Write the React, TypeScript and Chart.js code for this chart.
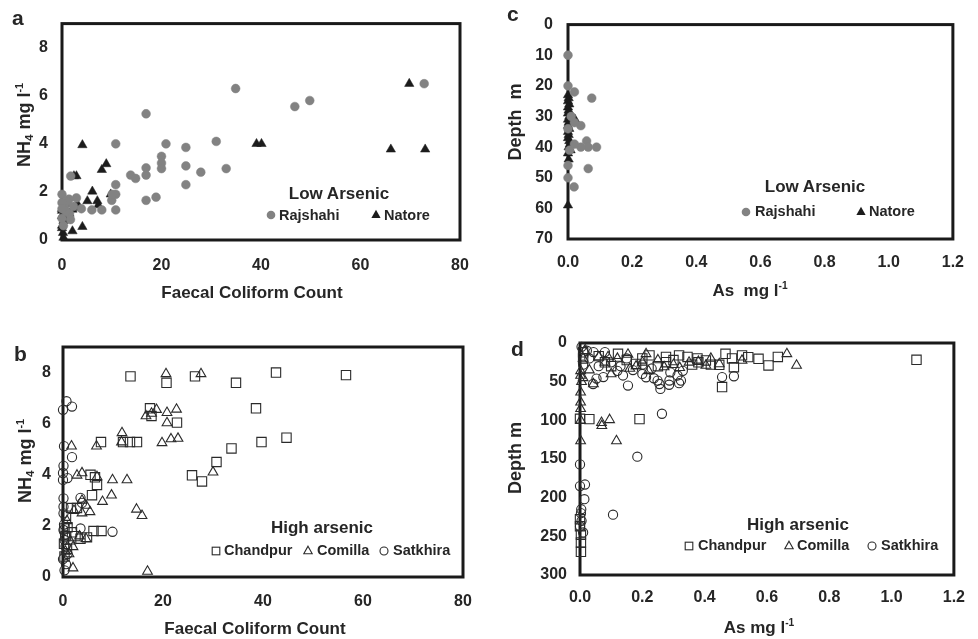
import React, { useEffect, useRef } from 'react';
import { Chart, registerables } from 'chart.js';
Chart.register(...registerables);

const FONT = "'Liberation Sans', Arial, Helvetica, sans-serif";
const INK = '#262626';

type Pt = [number, number];

// ---- Panel a: Low arsenic, NH4 vs faecal coliform count ----
const rajshahiFcNh4: Pt[] = [
  [34.9, 6.3], [72.8, 6.5], [46.8, 5.55], [49.8, 5.8], [16.9, 5.25], [10.8, 4.0], [20.9, 4.0], [31, 4.1],
  [24.9, 3.85], [20, 3.48], [20, 3.2], [20, 2.97], [16.9, 3.0], [16.9, 2.7], [13.8, 2.7], [14.8, 2.56],
  [24.9, 3.08], [27.9, 2.82], [33, 2.97], [24.9, 2.3], [10.8, 2.3], [10.8, 1.9], [18.9, 1.78], [16.9, 1.65],
  [10.8, 1.25], [10, 1.65], [8, 1.25], [6, 1.25], [1.75, 2.66], [2.9, 1.75], [3.9, 1.3], [0, 1.9],
  [1.4, 1.7], [1, 1.6], [0.5, 1.4], [1.5, 1.1], [1.7, 0.85], [0.3, 0.6], [0, 1.55], [2.3, 1.4],
  [0.8, 1.2], [0, 0.9], [10.1, 1.9], [0, 1.3]
];
const natoreFcNh4: Pt[] = [
  [69.8, 6.5], [4.1, 3.95], [39.1, 4.0], [40.1, 4.0], [66.1, 3.77], [73, 3.77], [8.9, 3.16], [8, 2.92],
  [2.9, 2.66], [2.4, 2.66], [6.1, 2.02], [9.8, 1.9], [5.1, 1.62], [7.1, 1.62], [7.3, 1.45], [3.1, 1.5],
  [2.9, 1.35], [2.1, 1.27], [1.5, 1.1], [4.1, 0.55], [2.1, 0.37], [0, 1.3], [0, 1.22], [0, 1.0],
  [0.3, 0.8], [0, 0.6], [0, 0.5], [0.2, 0.3], [0.3, 0.1], [0.7, 1.5], [1.2, 0.9]
];

// ---- Panel c: Low arsenic, depth vs As ----
const rajshahiAsDepth: Pt[] = [
  [0, 10], [0, 20], [0.02, 22], [0.074, 24], [0.04, 33], [0.02, 32], [0.058, 38], [0.089, 40],
  [0.063, 40], [0.04, 40], [0.02, 39], [0.063, 47], [0.019, 53], [0, 50], [0, 46], [0, 34],
  [0.01, 30], [0.005, 41]
];
const natoreAsDepth: Pt[] = [
  [0, 23], [0.002, 24], [0, 25], [0.004, 26], [0, 27], [0.002, 28], [0, 29], [0.004, 30],
  [0, 31], [0.022, 31], [0.002, 32], [0, 33], [0.004, 34], [0, 35], [0.002, 36], [0, 37],
  [0.004, 38], [0.006, 39], [0.002, 40], [0.008, 41], [0, 42], [0.002, 44], [0, 59]
];

// ---- Panel b: High arsenic, NH4 vs faecal coliform count ----
const chandpurFcNh4: Pt[] = [
  [13.5, 7.85], [20.7, 7.6], [26.4, 7.85], [42.6, 8.0], [56.6, 7.9], [34.6, 7.6], [38.6, 6.6], [17.4, 6.6],
  [17.7, 6.3], [22.8, 6.04], [44.7, 5.45], [39.7, 5.28], [33.7, 5.03], [30.7, 4.5], [25.8, 3.98], [27.8, 3.74],
  [7.6, 5.28], [12.0, 5.28], [13.4, 5.28], [14.8, 5.28], [5.5, 4.0], [6.4, 3.9], [6.8, 3.6], [5.8, 3.2],
  [1.6, 2.7], [2.8, 2.7], [6.1, 1.8], [7.7, 1.8], [4.8, 1.55], [0.3, 1.9], [0.5, 1.6], [0.9, 1.95],
  [1.8, 1.75], [0.2, 1.3], [0.8, 1.1], [0.3, 0.8], [2.5, 1.6], [3.5, 1.5], [0.6, 2.4]
];
const comillaFcNh4: Pt[] = [
  [20.6, 7.95], [27.6, 7.95], [16.6, 6.3], [17.7, 6.4], [18.7, 6.55], [20.8, 6.43], [22.7, 6.56], [20.8, 6.03],
  [11.8, 5.64], [11.7, 5.28], [19.8, 5.25], [21.6, 5.4], [23, 5.42], [6.7, 5.12], [1.7, 5.12], [2.8, 3.98],
  [3.8, 4.07], [9.9, 3.8], [12.8, 3.8], [6.8, 3.92], [9.7, 3.2], [7.9, 2.95], [14.7, 2.65], [15.8, 2.4],
  [30, 4.1], [16.9, 0.22], [2, 0.35], [3.8, 3.0], [4.6, 2.8], [3.8, 2.5], [5.4, 2.55], [2.2, 2.6],
  [2, 1.18], [1.2, 0.9], [3.3, 1.6], [4.6, 1.5], [1.5, 1.4], [0.8, 2.2], [0.5, 1.0]
];
const satkhiraFcNh4: Pt[] = [
  [0.7, 6.88], [1.8, 6.67], [0, 6.54], [0.2, 5.12], [1.8, 4.69], [0.1, 4.35], [0, 4.07], [0, 3.8],
  [0.9, 3.87], [0.1, 3.08], [0.1, 2.75], [0.1, 2.49], [3.5, 3.1], [3.8, 2.9], [9.9, 1.77], [3.5, 1.9],
  [0.1, 1.84], [0.3, 1.45], [0.9, 0.9], [0.6, 0.5], [0.3, 0.26], [0.2, 2.05], [0.5, 1.2], [0, 0.7],
  [0.4, 1.65]
];

// ---- Panel d: High arsenic, depth vs As ----
const chandpurAsDepth: Pt[] = [
  [1.08, 21.7], [0.456, 57], [0.191, 98.4], [0.03, 98.4], [0, 98], [0.605, 29], [0.635, 18], [0.573, 20.4],
  [0.54, 18.3], [0.52, 16], [0.467, 14], [0.488, 20], [0.494, 31.3], [0.447, 28.2], [0.404, 22.6], [0.377, 20],
  [0.345, 18], [0.318, 16], [0.276, 18], [0.223, 16], [0.122, 14], [0.276, 24.8], [0.18, 27], [0, 228],
  [0, 237], [0.003, 248], [0.003, 258], [0.003, 270], [0.08, 25], [0.15, 22], [0.3, 22], [0.38, 25],
  [0.42, 28], [0.2, 20], [0.01, 20], [0.01, 12], [0.06, 17], [0.1, 30], [0.36, 28], [0.25, 30]
];
const comillaAsDepth: Pt[] = [
  [0.664, 14], [0.695, 29], [0.117, 126.6], [0.095, 99.3], [0.069, 103], [0.07, 107], [0.002, 100], [0.002, 126.6],
  [0.002, 76.6], [0.002, 63.7], [0.043, 53], [0.002, 42], [0.002, 36], [0.52, 22.6], [0.404, 29], [0.447, 27],
  [0.154, 14.8], [0.212, 14], [0.27, 31], [0.35, 25], [0.3, 28], [0.25, 22], [0.18, 30], [0.12, 20],
  [0.08, 25], [0.06, 18], [0.03, 35], [0.01, 45], [0.22, 36], [0.38, 24], [0.42, 20], [0.01, 20],
  [0.015, 10], [0.1, 40], [0.16, 33], [0.32, 32], [0.005, 50], [0.002, 85], [0.09, 18], [0.2, 25]
];
const satkhiraAsDepth: Pt[] = [
  [0.263, 91.5], [0.184, 147], [0.106, 222], [0, 157], [0.016, 183], [0, 185], [0.014, 202], [0.004, 215],
  [0.003, 220], [0, 237], [0.154, 55], [0.258, 59.4], [0.286, 54], [0.249, 48.6], [0.324, 48.6], [0.313, 42],
  [0.456, 44], [0.494, 43], [0.237, 45.6], [0.212, 44.3], [0.075, 44], [0.053, 46], [0.042, 53], [0.08, 11.7],
  [0.043, 11.7], [0.022, 10], [0.005, 5], [0.318, 52], [0.287, 48.5], [0.255, 53], [0.138, 42], [0.1, 25],
  [0.13, 30], [0.17, 35], [0.2, 28], [0.23, 33], [0.15, 20], [0.06, 30], [0.03, 20], [0.01, 28],
  [0.29, 38], [0.33, 36], [0.2, 40], [0.12, 36], [0.005, 230], [0.01, 245]
];

const fcTicks = [0, 20, 40, 60, 80];
const nh4Ticks = [0, 2, 4, 6, 8];
const asTicks = [0, 0.2, 0.4, 0.6, 0.8, 1.0, 1.2];
const depthLowTicks = [0, 10, 20, 30, 40, 50, 60, 70];
const depthHighTicks = [0, 50, 100, 150, 200, 250, 300];

const toXY = (pts: Pt[]) => pts.map(([x, y]) => ({ x, y }));

const filled = (label: string, pts: Pt[], style: string, color: string, r: number) => ({
  label, data: toXY(pts), pointStyle: style, pointRadius: r, backgroundColor: color,
  borderColor: color, borderWidth: 0.5, showLine: false, clip: false,
});
const open = (label: string, pts: Pt[], style: string, r: number) => ({
  label, data: toXY(pts), pointStyle: style, pointRadius: r, backgroundColor: 'rgba(255,255,255,0)',
  borderColor: '#2a2a2a', borderWidth: 1.1, showLine: false, clip: false,
});

type Box = { left: number; top: number; width: number; height: number };
type Area = { left: number; top: number; right: number; bottom: number };
type Spec = {
  box: Box; area: Area; datasets: any[];
  xMin: number; xMax: number; xTicks: number[]; xDec: number; xPad: number;
  yMin: number; yMax: number; yTicks: number[]; yPad: number; reverse: boolean;
};

const framePlugin = {
  id: 'frame',
  beforeDatasetsDraw(chart: any) {
    const { ctx, chartArea: a } = chart;
    ctx.save();
    ctx.strokeStyle = '#1a1a1a';
    ctx.lineWidth = 3;
    ctx.strokeRect(a.left, a.top, a.right - a.left, a.bottom - a.top);
    ctx.restore();
  },
};

function Panel({ spec }: { spec: Spec }) {
  const ref = useRef<HTMLCanvasElement>(null);
  useEffect(() => {
    const { box, area } = spec;
    const tickFont = { family: FONT, size: 16, weight: 'bold' as const };
    const chart = new Chart(ref.current as HTMLCanvasElement, {
      type: 'scatter',
      data: { datasets: spec.datasets },
      options: {
        animation: false,
        responsive: false,
        maintainAspectRatio: false,
        events: [],
        layout: {
          padding: { left: 0, bottom: 0, top: area.top - box.top, right: box.left + box.width - area.right },
        },
        plugins: { legend: { display: false }, tooltip: { enabled: false } },
        scales: {
          x: {
            type: 'linear', min: spec.xMin, max: spec.xMax,
            grid: { display: false, drawTicks: false }, border: { display: false },
            ticks: {
              font: tickFont, color: INK, padding: spec.xPad, maxRotation: 0, autoSkip: false,
              callback: (v: any) => Number(v).toFixed(spec.xDec),
            },
            afterBuildTicks: (s: any) => { s.ticks = spec.xTicks.map((value) => ({ value })); },
            afterFit: (s: any) => { s.height = box.top + box.height - area.bottom; },
          },
          y: {
            type: 'linear', min: spec.yMin, max: spec.yMax, reverse: spec.reverse,
            grid: { display: false, drawTicks: false }, border: { display: false },
            ticks: { font: tickFont, color: INK, padding: spec.yPad, autoSkip: false, callback: (v: any) => String(v) },
            afterBuildTicks: (s: any) => { s.ticks = spec.yTicks.map((value) => ({ value })); },
            afterFit: (s: any) => { s.width = area.left - box.left; },
          },
        },
      } as any,
      plugins: [framePlugin],
    });
    return () => chart.destroy();
  }, [spec]);
  const { box } = spec;
  return (
    <canvas ref={ref} width={box.width} height={box.height}
      style={{ position: 'absolute', left: box.left, top: box.top, width: box.width, height: box.height }} />
  );
}

const GRAY = '#828282';
const BLACK = '#1c1c1c';

const specA: Spec = {
  box: { left: 0, top: 0, width: 489, height: 300 },
  area: { left: 62, top: 12, right: 460, bottom: 240 },
  datasets: [filled('Rajshahi', rajshahiFcNh4, 'circle', GRAY, 4.4), filled('Natore', natoreFcNh4, 'triangle', BLACK, 5.4)],
  xMin: 0, xMax: 80, xTicks: fcTicks, xDec: 0, xPad: 16,
  yMin: 0, yMax: 9, yTicks: nh4Ticks, yPad: 14, reverse: false,
};
const specC: Spec = {
  box: { left: 489, top: 0, width: 489, height: 300 },
  area: { left: 568, top: 9, right: 953, bottom: 239 },
  datasets: [filled('Rajshahi', rajshahiAsDepth, 'circle', GRAY, 4.4), filled('Natore', natoreAsDepth, 'triangle', BLACK, 5.4)],
  xMin: 0, xMax: 1.2, xTicks: asTicks, xDec: 1, xPad: 14,
  yMin: 0, yMax: 70, yTicks: depthLowTicks, yPad: 15, reverse: true,
};
const specB: Spec = {
  box: { left: 0, top: 300, width: 489, height: 339 },
  area: { left: 63, top: 347, right: 463, bottom: 577 },
  datasets: [open('Chandpur', chandpurFcNh4, 'rect', 6.6), open('Comilla', comillaFcNh4, 'triangle', 5.6), open('Satkhira', satkhiraFcNh4, 'circle', 4.6)],
  xMin: 0, xMax: 80, xTicks: fcTicks, xDec: 0, xPad: 15,
  yMin: 0, yMax: 9, yTicks: nh4Ticks, yPad: 12, reverse: false,
};
const specD: Spec = {
  box: { left: 489, top: 300, width: 489, height: 339 },
  area: { left: 580, top: 343, right: 956, bottom: 575 },
  datasets: [open('Chandpur', chandpurAsDepth, 'rect', 6.6), open('Comilla', comillaAsDepth, 'triangle', 5.6), open('Satkhira', satkhiraAsDepth, 'circle', 4.6)],
  xMin: 0, xMax: 1.2, xTicks: asTicks, xDec: 1, xPad: 13,
  yMin: 0, yMax: 300, yTicks: depthHighTicks, yPad: 13, reverse: true,
};

const txt = (size: number): React.CSSProperties => ({
  position: 'absolute', fontFamily: FONT, fontWeight: 'bold', fontSize: size, color: INK,
  lineHeight: 1, whiteSpace: 'nowrap',
});

function Centered({ x, y, size, rotate, children }: { x: number; y: number; size: number; rotate?: boolean; children: React.ReactNode }) {
  return (
    <div style={{ ...txt(size), left: x, top: y, transform: `translate(-50%, -50%)${rotate ? ' rotate(-90deg)' : ''}` }}>
      {children}
    </div>
  );
}

function Marker({ x, y, kind }: { x: number; y: number; kind: 'dot' | 'tri' | 'sq' | 'otri' | 'ocirc' }) {
  const s = 10;
  let shape: React.ReactNode = null;
  if (kind === 'dot') shape = <circle cx={5} cy={5} r={4.3} fill={GRAY} />;
  if (kind === 'tri') shape = <polygon points="5,0.8 9.6,9 0.4,9" fill={BLACK} />;
  if (kind === 'sq') shape = <rect x={1.2} y={1.2} width={7.6} height={7.6} fill="none" stroke="#2a2a2a" strokeWidth={1.1} />;
  if (kind === 'otri') shape = <polygon points="5,1.2 9.2,8.8 0.8,8.8" fill="none" stroke="#2a2a2a" strokeWidth={1.1} />;
  if (kind === 'ocirc') shape = <circle cx={5} cy={5} r={4} fill="none" stroke="#2a2a2a" strokeWidth={1.1} />;
  return (
    <svg width={s} height={s} style={{ position: 'absolute', left: x - s / 2, top: y - s / 2 }}>{shape}</svg>
  );
}

function Label({ x, y, text }: { x: number; y: number; text: string }) {
  return <div style={{ ...txt(14.5), left: x, top: y, transform: 'translateY(-50%)' }}>{text}</div>;
}

const supStyle: React.CSSProperties = { fontSize: '0.6em', verticalAlign: '0.7em' };
const subStyle: React.CSSProperties = { fontSize: '0.65em', verticalAlign: '-0.25em' };

const nh4Title = <span>NH<span style={subStyle}>4</span> mg l<span style={supStyle}>-1</span></span>;

export default function App() {
  return (
    <div style={{ position: 'fixed', left: 0, top: 0, width: 978, height: 639, background: '#fff', overflow: 'hidden' }}>
      <Panel spec={specA} />
      <Panel spec={specC} />
      <Panel spec={specB} />
      <Panel spec={specD} />

      {/* panel letters */}
      <div style={{ ...txt(21), left: 12, top: 17, transform: 'translateY(-50%)' }}>a</div>
      <div style={{ ...txt(21), left: 507, top: 13, transform: 'translateY(-50%)' }}>c</div>
      <div style={{ ...txt(21), left: 14, top: 353, transform: 'translateY(-50%)' }}>b</div>
      <div style={{ ...txt(21), left: 511, top: 348, transform: 'translateY(-50%)' }}>d</div>

      {/* axis titles */}
      <Centered x={24} y={125} size={18} rotate>{nh4Title}</Centered>
      <Centered x={252} y={292} size={17}>Faecal Coliform Count</Centered>
      <Centered x={515} y={122} size={18} rotate>Depth&nbsp; m</Centered>
      <Centered x={750} y={290} size={17}>As&nbsp; mg l<span style={supStyle}>-1</span></Centered>
      <Centered x={25} y={461} size={18} rotate>{nh4Title}</Centered>
      <Centered x={255} y={628} size={17}>Faecal Coliform Count</Centered>
      <Centered x={515} y={458} size={18} rotate>Depth m</Centered>
      <Centered x={759} y={627} size={17}>As mg l<span style={supStyle}>-1</span></Centered>

      {/* legend a */}
      <Centered x={339} y={193} size={17}>Low Arsenic</Centered>
      <Marker x={271} y={215} kind="dot" />
      <Label x={279} y={215} text="Rajshahi" />
      <Marker x={376} y={214} kind="tri" />
      <Label x={384} y={215} text="Natore" />

      {/* legend c */}
      <Centered x={815} y={186} size={17}>Low Arsenic</Centered>
      <Marker x={746} y={212} kind="dot" />
      <Label x={755} y={211} text="Rajshahi" />
      <Marker x={861} y={211} kind="tri" />
      <Label x={869} y={211} text="Natore" />

      {/* legend b */}
      <Centered x={322} y={527} size={17}>High arsenic</Centered>
      <Marker x={216} y={551} kind="sq" />
      <Label x={224} y={550} text="Chandpur" />
      <Marker x={308} y={550} kind="otri" />
      <Label x={317} y={550} text="Comilla" />
      <Marker x={384} y={551} kind="ocirc" />
      <Label x={393} y={550} text="Satkhira" />

      {/* legend d */}
      <Centered x={798} y={524} size={17}>High arsenic</Centered>
      <Marker x={689} y={546} kind="sq" />
      <Label x={698} y={545} text="Chandpur" />
      <Marker x={789} y={545} kind="otri" />
      <Label x={797} y={545} text="Comilla" />
      <Marker x={872} y={546} kind="ocirc" />
      <Label x={881} y={545} text="Satkhira" />
    </div>
  );
}
